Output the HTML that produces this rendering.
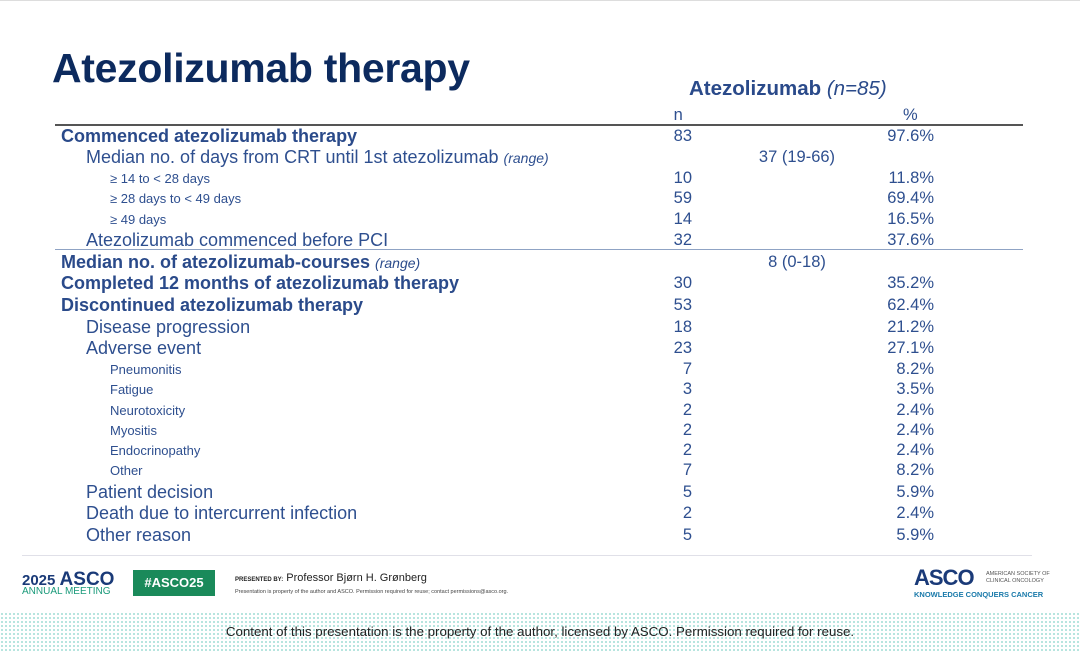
<!DOCTYPE html>
<html><head><meta charset="utf-8"><style>
*{margin:0;padding:0;box-sizing:border-box}
body{width:1080px;height:651px;position:relative;background:#fff;font-family:"Liberation Sans",Arial,sans-serif;overflow:hidden;color:#2e4f8f}
.a{position:absolute;white-space:nowrap;line-height:1}
.b{font-weight:bold;color:#2a4a8a}
.t{font-size:16.5px}
.l{font-size:18px;margin-top:-1px}
.s{font-size:13px}
.n{text-align:right;width:60px;left:632px}
.p{text-align:right;width:100px;left:834px}
.m{text-align:center;width:160px;left:717px}
</style></head><body>
<div style="position:absolute;left:0;top:0;width:1080px;height:1px;background:#ddd"></div>
<div class="a" style="left:52px;top:48px;font-size:41px;font-weight:bold;color:#0c2a5e;letter-spacing:-0.3px">Atezolizumab therapy</div>
<div class="a b" style="left:689px;top:79px;font-size:20.5px;color:#2a4a8a">Atezolizumab <i style="font-weight:normal">(n=85)</i></div>
<div class="a t n" style="top:107px">n&nbsp;&nbsp;</div>
<div class="a t" style="left:903px;top:107px">%</div>
<div style="position:absolute;left:55px;top:124px;width:968px;height:2px;background:#555"></div>
<div style="position:absolute;left:55px;top:249px;width:968px;height:1px;background:#8fa3c4"></div>
<div style="position:absolute;left:22px;top:555px;width:1010px;height:1px;background:#e0e0e8"></div>

<div class="a l b" style="left:61px;top:128px">Commenced atezolizumab therapy</div><div class="a t n" style="top:128px">83</div><div class="a t p" style="top:128px">97.6%</div>
<div class="a l" style="left:86px;top:149px">Median no. of days from CRT until 1st atezolizumab <i style="font-size:14px">(range)</i></div><div class="a t m" style="top:149px">37 (19-66)</div>
<div class="a s" style="left:110px;top:172px">≥ 14 to &lt; 28 days</div><div class="a t n" style="top:170px">10</div><div class="a t p" style="top:170px">11.8%</div>
<div class="a s" style="left:110px;top:192px">≥ 28 days to &lt; 49 days</div><div class="a t n" style="top:190px">59</div><div class="a t p" style="top:190px">69.4%</div>
<div class="a s" style="left:110px;top:213px">≥ 49 days</div><div class="a t n" style="top:211px">14</div><div class="a t p" style="top:211px">16.5%</div>
<div class="a l" style="left:86px;top:232px">Atezolizumab commenced before PCI</div><div class="a t n" style="top:232px">32</div><div class="a t p" style="top:232px">37.6%</div>
<div class="a l b" style="left:61px;top:254px">Median no. of atezolizumab-courses <i style="font-weight:normal;font-size:14px">(range)</i></div><div class="a t m" style="top:254px">8 (0-18)</div>
<div class="a l b" style="left:61px;top:275px">Completed 12 months of atezolizumab therapy</div><div class="a t n" style="top:275px">30</div><div class="a t p" style="top:275px">35.2%</div>
<div class="a l b" style="left:61px;top:297px">Discontinued atezolizumab therapy</div><div class="a t n" style="top:297px">53</div><div class="a t p" style="top:297px">62.4%</div>
<div class="a l" style="left:86px;top:319px">Disease progression</div><div class="a t n" style="top:319px">18</div><div class="a t p" style="top:319px">21.2%</div>
<div class="a l" style="left:86px;top:340px">Adverse event</div><div class="a t n" style="top:340px">23</div><div class="a t p" style="top:340px">27.1%</div>
<div class="a s" style="left:110px;top:363px">Pneumonitis</div><div class="a t n" style="top:361px">7</div><div class="a t p" style="top:361px">8.2%</div>
<div class="a s" style="left:110px;top:383px">Fatigue</div><div class="a t n" style="top:381px">3</div><div class="a t p" style="top:381px">3.5%</div>
<div class="a s" style="left:110px;top:404px">Neurotoxicity</div><div class="a t n" style="top:402px">2</div><div class="a t p" style="top:402px">2.4%</div>
<div class="a s" style="left:110px;top:424px">Myositis</div><div class="a t n" style="top:422px">2</div><div class="a t p" style="top:422px">2.4%</div>
<div class="a s" style="left:110px;top:444px">Endocrinopathy</div><div class="a t n" style="top:442px">2</div><div class="a t p" style="top:442px">2.4%</div>
<div class="a s" style="left:110px;top:464px">Other</div><div class="a t n" style="top:462px">7</div><div class="a t p" style="top:462px">8.2%</div>
<div class="a l" style="left:86px;top:484px">Patient decision</div><div class="a t n" style="top:484px">5</div><div class="a t p" style="top:484px">5.9%</div>
<div class="a l" style="left:86px;top:505px">Death due to intercurrent infection</div><div class="a t n" style="top:505px">2</div><div class="a t p" style="top:505px">2.4%</div>
<div class="a l" style="left:86px;top:527px">Other reason</div><div class="a t n" style="top:527px">5</div><div class="a t p" style="top:527px">5.9%</div>

<div class="a" style="left:22px;top:570px;font-size:15px;font-weight:bold;color:#1a3a78">2025 <span style="font-size:19px">ASCO</span></div>
<div class="a" style="left:22px;top:587px;font-size:10px;color:#1a9a7a">ANNUAL MEETING</div>
<div style="position:absolute;left:133px;top:570px;width:82px;height:26px;background:#1a8a5a;color:#fff;font-weight:bold;font-size:13px;line-height:26px;text-align:center">#ASCO25</div>
<div class="a" style="left:235px;top:573px;font-size:11px;color:#222"><span style="font-size:6px;font-weight:bold">PRESENTED BY:</span> Professor Bjørn H. Grønberg</div>
<div class="a" style="left:235px;top:590px;font-size:5.5px;color:#444">Presentation is property of the author and ASCO. Permission required for reuse; contact permissions@asco.org.</div>
<div class="a" style="left:914px;top:567px;font-size:22px;font-weight:bold;color:#1a3a78;letter-spacing:-1px">ASCO</div>
<div class="a" style="left:986px;top:571px;font-size:5.5px;color:#555;line-height:1.2">AMERICAN SOCIETY OF<br>CLINICAL ONCOLOGY</div>
<div class="a" style="left:914px;top:591px;font-size:7.5px;font-weight:bold;color:#1a7aaa">KNOWLEDGE CONQUERS CANCER</div>

<div style="position:absolute;left:0;top:612px;width:1080px;height:39px;background-image:radial-gradient(#9fdcd4 0.8px,transparent 1px);background-size:4px 4px"></div>
<div class="a" style="left:0;width:1080px;text-align:center;top:625px;font-size:13.3px;color:#222">Content of this presentation is the property of the author, licensed by ASCO. Permission required for reuse.</div>
</body></html>
